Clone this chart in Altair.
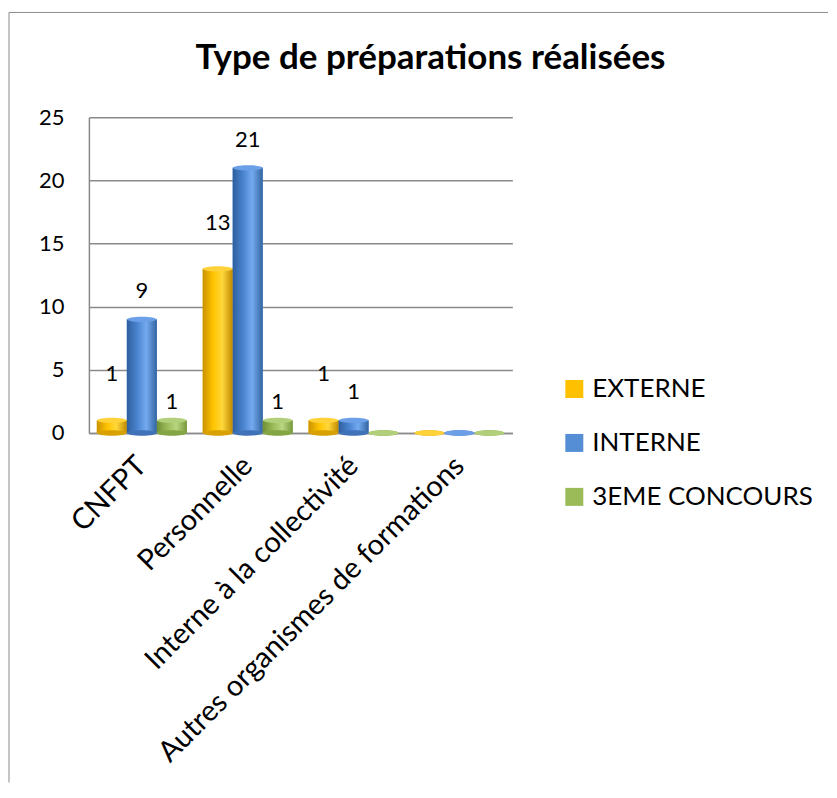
import altair as alt
import pandas as pd

categories = ["CNFPT", "Personnelle", "Interne à la collectivité", "Autres organismes de formations"]
series = ["EXTERNE", "INTERNE", "3EME CONCOURS"]
externe = [1, 13, 1, 0]
interne = [9, 21, 1, 0]
troisieme = [1, 1, 0, 0]
title_text = "Type de préparations réalisées"

legend_colors = ["#FFC000", "#558ED5", "#9BBB59"]
gradients = {
    "EXTERNE": ["#C99200", "#FFC400", "#FFD83A", "#C08A00"],
    "INTERNE": ["#2E5F9E", "#4A84CF", "#74AAF0", "#32649F"],
    "3EME CONCOURS": ["#6F8F36", "#9BBB59", "#B9D680", "#76983C"],
}
base_colors = {"EXTERNE": "#D8A000", "INTERNE": "#3F72B8", "3EME CONCOURS": "#84A544"}
top_colors = {"EXTERNE": "#FFD23A", "INTERNE": "#6BA0E8", "3EME CONCOURS": "#B2CF79"}
label_dy = {"EXTERNE": -46, "INTERNE": -28, "3EME CONCOURS": -18}

rows = []
for s, vals in zip(series, [externe, interne, troisieme]):
    for c, v in zip(categories, vals):
        rows.append({"cat": c, "series": s, "value": v})
df = pd.DataFrame(rows)

FONT = "Lato"
ellipse = "M -1 0 A 1 0.18 0 1 0 1 0 A 1 0.18 0 1 0 -1 0 Z"

x_enc = alt.X(
    "cat:N",
    sort=categories,
    scale=alt.Scale(domain=categories, paddingInner=0.15, paddingOuter=0.075),
    axis=alt.Axis(
        title=None, labelAngle=-45, labelAlign="right", labelBaseline="middle",
        labelFontSize=29, labelFont=FONT, labelColor="black", labelPadding=28,
        ticks=False, domainColor="#8a8a8a", domainWidth=1.5, labelLimit=600,
    ),
)
xo_enc = alt.XOffset("series:N", sort=series, scale=alt.Scale(domain=series, paddingInner=0, paddingOuter=0))
y_scale = alt.Scale(domain=[0, 25], nice=False, zero=True, padding=0)
y_axis = alt.Axis(
    title=None, values=[0, 5, 10, 15, 20, 25], grid=True, gridColor="#8a8a8a", gridWidth=1.5,
    domain=True, domainColor="#8a8a8a", domainWidth=1.5, ticks=False,
    labelFontSize=22, labelFont=FONT, labelColor="black", labelPadding=25,
)

base = alt.Chart(df).encode(x=x_enc, xOffset=xo_enc)

legend_bars = base.mark_bar().encode(
    y=alt.Y("value:Q", scale=y_scale, axis=y_axis),
    color=alt.Color(
        "series:N", sort=series,
        scale=alt.Scale(domain=series, range=legend_colors),
        legend=alt.Legend(
            title=None, orient="none", legendX=473, legendY=259,
            symbolType="square", symbolSize=324, symbolStrokeWidth=0,
            labelFontSize=26, labelFont=FONT, labelColor="black",
            rowPadding=28, labelOffset=5, labelLimit=600,
        ),
    ),
)

layers = [legend_bars]
for s in series:
    g = gradients[s]
    sub = base.transform_filter(alt.datum.series == s)
    grad = alt.Gradient(
        gradient="linear", x1=0, x2=1, y1=0, y2=0,
        stops=[
            alt.GradientStop(color=g[0], offset=0),
            alt.GradientStop(color=g[1], offset=0.35),
            alt.GradientStop(color=g[2], offset=0.65),
            alt.GradientStop(color=g[3], offset=1),
        ],
    )
    layers.append(sub.mark_bar(fill=grad).encode(y=alt.Y("value:Q", scale=y_scale)))
    layers.append(
        sub.mark_point(shape=ellipse, filled=True, size=900, opacity=1, color=base_colors[s])
        .encode(y=alt.YDatum(0, type="quantitative", scale=y_scale))
    )
    layers.append(
        sub.mark_point(shape=ellipse, filled=True, size=900, opacity=1, color=top_colors[s])
        .encode(y=alt.Y("value:Q", scale=y_scale))
    )
    layers.append(
        sub.transform_filter(alt.datum.value > 0)
        .mark_text(font=FONT, fontSize=22, color="black", dy=label_dy[s], baseline="middle")
        .encode(y=alt.Y("value:Q", scale=y_scale), text="value:Q")
    )

one = pd.DataFrame({"t": [title_text]})
frame_left = alt.Chart(one).mark_rule(color="#8c8c8c", strokeWidth=1).encode(
    x=alt.value(-80), y=alt.value(-105), y2=alt.value(666)
)
frame_top = alt.Chart(one).mark_rule(color="#8c8c8c", strokeWidth=1).encode(
    x=alt.value(-80), x2=alt.value(740), y=alt.value(-105)
)
title = alt.Chart(one).mark_text(
    font=FONT, fontSize=35, fontWeight="bold", color="black", align="center", baseline="middle"
).encode(x=alt.value(342), y=alt.value(-59), text="t:N")

chart = alt.layer(frame_left, frame_top, title, *layers).properties(
    width=424,
    height=316,
    padding={"left": 0, "top": 3, "right": 0, "bottom": 0},
).configure_view(stroke=None)

chart.save("out.html", embed_options={"renderer": "svg", "actions": False})
